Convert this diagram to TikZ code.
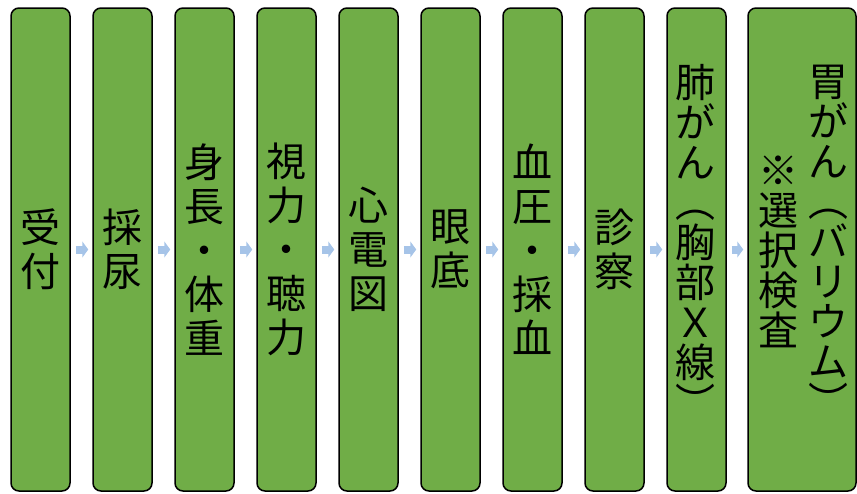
\documentclass[tikz,border=0pt]{standalone}
\usepackage{fontspec}
\newfontfamily\jpfont{Noto Sans CJK JP}
\usepackage{tikz}
\usetikzlibrary{calc,arrows.meta}
\definecolor{stagegreen}{RGB}{112,173,71}
\definecolor{flowblue}{RGB}{166,196,232}

\begin{document}
\begin{tikzpicture}[x=1pt, y=-1pt,
	stage/.style={draw=black, line width=1.5pt, fill=stagegreen, rounded corners=8pt,
		minimum width=59pt, minimum height=483pt, inner sep=0pt, align=center,
		font=\jpfont\fontsize{40}{44}\selectfont},
	vtext/.style={inner sep=0pt, align=center, font=\jpfont\fontsize{40}{40}\selectfont},
	flow/.style={draw=flowblue, line width=8pt, -{Triangle[width=16pt,length=6pt]},
		shorten <=5pt, shorten >=4pt}]
			%%%%% START %%%%%
			
			\useasboundingbox (0, 0) rectangle (857, 493);
			
			\node[stage] (uketsuke) at (40.5, 249.5) {受\\付};
			\node[stage] (sainyo) at (122.5, 249.5) {採\\尿};
			\node[stage] (shincho) at (204.5, 249.5) {身\\長\\・\\体\\重};
			\node[stage] (shiryoku) at (286.5, 249.5) {視\\力\\・\\聴\\力};
			\node[stage] (shindenzu) at (368.5, 249.5) {心\\電\\図};
			\node[stage] (gantei) at (450.5, 249.5) {眼\\底};
			\node[stage] (ketsuatsu) at (532.5, 249.5) {血\\圧\\・\\採\\血};
			\node[stage] (shinsatsu) at (614.5, 249.5) {診\\察};
			\node[stage] (haigan) at (696.5, 249.5) {};
			\node[stage, minimum width=108pt] (igan) at (802, 249.5) {};
			
			\node[vtext] (haigan text) at ($(haigan)+(-1, -9)$) {肺\\が\\ん\\︵\\胸\\部\\Ｘ\\線\\︶};
			\node[vtext] (igan text) at ($(igan)+(26, -9)$) {胃\\が\\ん\\︵\\バ\\リ\\ウ\\ム\\︶};
			\node[vtext] (sentaku text) at ($(igan)+(-24, 2)$) {※\\選\\択\\検\\査};
			
			\draw[flow] (uketsuke) -- (sainyo);
			\draw[flow] (sainyo) -- (shincho);
			\draw[flow] (shincho) -- (shiryoku);
			\draw[flow] (shiryoku) -- (shindenzu);
			\draw[flow] (shindenzu) -- (gantei);
			\draw[flow] (gantei) -- (ketsuatsu);
			\draw[flow] (ketsuatsu) -- (shinsatsu);
			\draw[flow] (shinsatsu) -- (haigan);
			\draw[flow] (haigan) -- (igan);
			
			%%%%% END %%%%%
\end{tikzpicture}
\end{document}
